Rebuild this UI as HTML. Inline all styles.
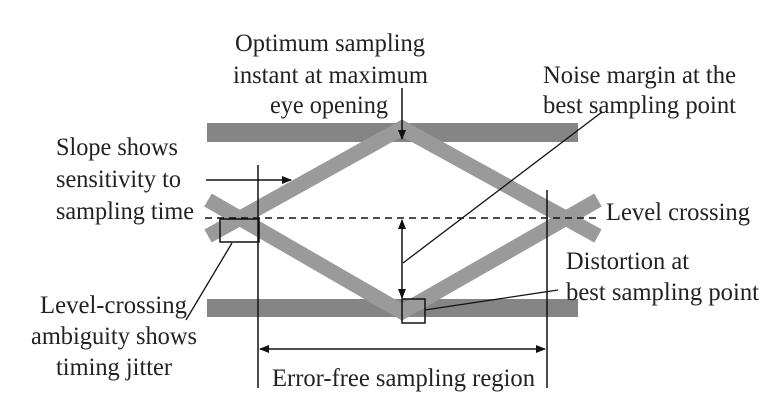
<!DOCTYPE html>
<html><head><meta charset="utf-8"><style>
html,body{margin:0;padding:0;background:#fff;}
svg{display:block;}
text{font-family:"Liberation Serif","DejaVu Serif",serif;font-size:25px;fill:#222;}
</style></head><body>
<svg width="779" height="417" viewBox="0 0 779 417">
<defs>
<marker id="ah" markerWidth="10" markerHeight="8" refX="9" refY="4" orient="auto" markerUnits="userSpaceOnUse"><path d="M0,0 L10,4 L0,8 z" fill="#111"/></marker>
<marker id="as" markerWidth="10" markerHeight="8" refX="1" refY="4" orient="auto" markerUnits="userSpaceOnUse"><path d="M10,0 L0,4 L10,8 z" fill="#111"/></marker>
</defs>
<rect x="207" y="123" width="371" height="19" fill="#858585"/>
<rect x="207" y="299" width="371" height="18" fill="#858585"/>
<g stroke="#9a9a9a" stroke-width="15" fill="none" stroke-linecap="butt">
<polyline points="208,236 402,128 598,236"/>
<polyline points="208,200 402,312 598,200"/>
</g>
<line x1="205" y1="218" x2="598" y2="218" stroke="#111" stroke-width="1.5" stroke-dasharray="7,5"/>
<line x1="258" y1="165" x2="258" y2="388" stroke="#111" stroke-width="1.5"/>
<line x1="547" y1="190" x2="547" y2="388" stroke="#111" stroke-width="1.5"/>
<line x1="260" y1="349" x2="545" y2="349" stroke="#111" stroke-width="1.5" marker-start="url(#as)" marker-end="url(#ah)"/>
<line x1="402" y1="220" x2="402" y2="298" stroke="#111" stroke-width="1.5" marker-start="url(#as)" marker-end="url(#ah)"/>
<line x1="402" y1="88" x2="402" y2="139" stroke="#111" stroke-width="1.5" marker-end="url(#ah)"/>
<line x1="206" y1="180" x2="291" y2="180" stroke="#111" stroke-width="1.5" marker-end="url(#ah)"/>
<rect x="220" y="219" width="39" height="23" fill="none" stroke="#111" stroke-width="1.5"/>
<rect x="402" y="299" width="23" height="24" fill="none" stroke="#111" stroke-width="1.5"/>
<g stroke="#111" stroke-width="1.3">
<line x1="602" y1="112" x2="403" y2="263"/>
<line x1="232" y1="243" x2="186" y2="320"/>
<line x1="425" y1="310" x2="558" y2="290"/>
</g>
<g>
<text x="235" y="51" textLength="190" lengthAdjust="spacingAndGlyphs">Optimum sampling</text>
<text x="233" y="83" textLength="195" lengthAdjust="spacingAndGlyphs">instant at maximum</text>
<text x="270" y="113" textLength="118" lengthAdjust="spacingAndGlyphs">eye opening</text>
<text x="543" y="83" textLength="193" lengthAdjust="spacingAndGlyphs">Noise margin at the</text>
<text x="543" y="113" textLength="193" lengthAdjust="spacingAndGlyphs">best sampling point</text>
<text x="56" y="155" textLength="122" lengthAdjust="spacingAndGlyphs">Slope shows</text>
<text x="56" y="187" textLength="125" lengthAdjust="spacingAndGlyphs">sensitivity to</text>
<text x="56" y="219" textLength="138" lengthAdjust="spacingAndGlyphs">sampling time</text>
<text x="606" y="220" textLength="144" lengthAdjust="spacingAndGlyphs">Level crossing</text>
<text x="566" y="269" textLength="123" lengthAdjust="spacingAndGlyphs">Distortion at</text>
<text x="566" y="300" textLength="193" lengthAdjust="spacingAndGlyphs">best sampling point</text>
<text x="40" y="313" textLength="147" lengthAdjust="spacingAndGlyphs">Level-crossing</text>
<text x="31" y="344" textLength="166" lengthAdjust="spacingAndGlyphs">ambiguity shows</text>
<text x="56" y="375" textLength="116" lengthAdjust="spacingAndGlyphs">timing jitter</text>
<text x="272" y="386" textLength="263" lengthAdjust="spacingAndGlyphs">Error-free sampling region</text>
</g>
</svg>
</body></html>
